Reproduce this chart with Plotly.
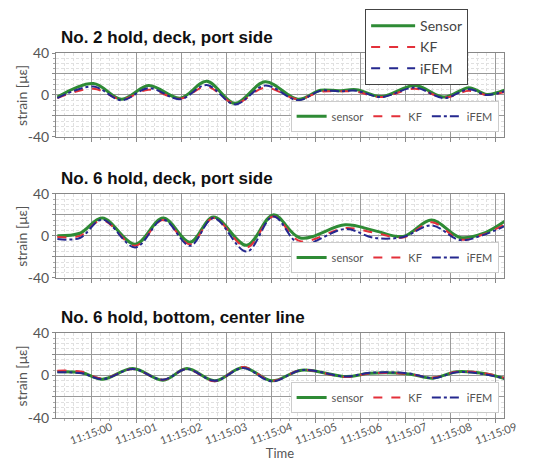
import plotly.graph_objects as go
import pandas as pd

# ---- data (seconds after 11:15:00, strain in micro-strain) ----
T1 = [-0.75, 0.05, 0.68, 1.28, 1.98, 2.57, 3.2, 3.87, 4.6, 5.1, 5.5, 5.9, 6.45, 7.2, 7.85, 8.4, 8.8, 9.25]
S1 = [-2, 11, -4, 9, -3, 13, -8, 12.5, -4, 4.5, 4, 5, -1.5, 9, -2, 7, 0.5, 5.5]
K1 = [-3, 6, -4, 5, -3.5, 8, -8, 7, -4, 3, 3.5, 3, -2, 6, -2.5, 4, 0, 3.5]
F1 = [-3, 8, -5, 6.5, -4, 9.5, -9, 9, -5, 4, 3.5, 4, -2, 7, -3, 5.5, 0, 4.5]

T2 = [-0.75, -0.25, 0.25, 0.98, 1.6, 2.2, 2.72, 3.46, 4.05, 4.65, 5.65, 6.3, 6.94, 7.57, 8.2, 8.7, 9.25]
S2 = [0, 2.5, 17, -8, 17, -6, 18, -9, 20, -2, 10.5, 5, -0.5, 15, -1.5, 2, 15.5]
K2 = [-1, 0, 15, -9.5, 15, -8, 17, -11, 18.5, -5, 7.5, 3, -1.5, 13, -3.5, 1, 12]
F2 = [-3, -2, 15.5, -11, 15.5, -9.5, 17, -15, 18.5, -8, 6.5, -2, -1, 10, -4, 0.5, 10.5]

T3 = [-0.75, -0.2, 0.25, 0.93, 1.6, 2.13, 2.75, 3.38, 4.02, 4.68, 5.68, 6.2, 7.05, 7.6, 8.13, 8.7, 9.25]
S3 = [3.5, 2.5, -3.5, 6.5, -4.5, 6.5, -5, 7.5, -5, 5, -1, 2, 1.5, -2.5, 3.5, 2, -3.5]
K3 = [4.5, 3.5, -3, 6, -4, 6, -5.5, 8, -5, 5, -1.5, 2, 1.5, -2, 3.5, 2.5, -3]
F3 = [3, 2, -3.5, 6, -4, 6, -5, 7, -5.5, 5, -1, 2.5, 2, -2.5, 3, 1.5, -3.5]

TITLES = ["No. 2 hold, deck, port side", "No. 6 hold, deck, port side", "No. 6 hold, bottom, center line"]
SERIES_NAMES = ["sensor", "KF", "iFEM"]
MAIN_NAMES = ["Sensor", "KF", "iFEM"]
Y_TICKS = [-40, -20, 0, 20, 40]
Y_TICK_TEXT = ["-40", "", "0", "", "40"]
Y_TITLE = "strain [με]"
X_TITLE = "Time"

BASE = pd.Timestamp("2023-01-01 11:15:00")


def tt(secs):
    return [(BASE + pd.Timedelta(seconds=s)).strftime("%Y-%m-%d %H:%M:%S.%f") for s in secs]


GREEN = "#2e8b35"
RED = "#e3303a"
BLUE = "#25288f"
FONT = "Lato, Liberation Sans, sans-serif"

panels = [(T1, S1, K1, F1), (T2, S2, K2, F2), (T3, S3, K3, F3)]
domains = [[0.770, 1.0], [0.384, 0.614], [0.0, 0.233]]
leg_y = [0.784, 0.397, 0.0137]

fig = go.Figure()
for i, (T, S, K, F) in enumerate(panels):
    ax = "" if i == 0 else str(i + 1)
    lg = "legend%d" % (i + 2)
    x = tt(T)
    styles = [(S, GREEN, "solid", 3.0), (K, RED, "dash", 2.0), (F, BLUE, "dashdot", 2.0)]
    for name, (vals, col, dash, w) in zip(SERIES_NAMES, styles):
        fig.add_trace(go.Scatter(x=x, y=vals, mode="lines", name=name,
                                 line=dict(color=col, dash=dash, width=w, shape="spline", smoothing=1.0),
                                 xaxis="x" + ax, yaxis="y" + ax, legend=lg))

# main legend entries
for name, col, dash, w in zip(MAIN_NAMES, [GREEN, RED, BLUE], ["solid", "dash", "dash"], [3, 2, 2]):
    fig.add_trace(go.Scatter(x=[None], y=[None], mode="lines", name=name,
                             line=dict(color=col, dash=dash, width=w),
                             xaxis="x", yaxis="y", legend="legend"))

xrange = [(BASE - pd.Timedelta(seconds=0.78)).strftime("%Y-%m-%d %H:%M:%S.%f"),
          (BASE + pd.Timedelta(seconds=9.18)).strftime("%Y-%m-%d %H:%M:%S.%f")]

layout = dict(
    width=525, height=453,
    margin=dict(l=48, r=29, t=45, b=43, autoexpand=False),
    paper_bgcolor="white", plot_bgcolor="white",
    font=dict(family=FONT, color="#555"),
    showlegend=True,
    legend=dict(x=0.69, y=1.12, xanchor="left", yanchor="top", orientation="v",
                bgcolor="white", bordercolor="#444", borderwidth=1,
                font=dict(size=14, color="#444", family=FONT), tracegroupgap=0,
                itemwidth=44),
)
for i in range(3):
    ax = "" if i == 0 else str(i + 1)
    layout["xaxis" + ax] = dict(
        type="date", range=xrange, domain=[0, 1], anchor="y" + ax,
        tick0=tt([0])[0], dtick=1000, tickformat="%H:%M:%S", tickangle=-20,
        ticklabelshift=20, ticklabelstandoff=-6,
        showticklabels=(i == 2), tickfont=dict(size=11, color="#555"),
        showgrid=True, gridcolor="#9a9a9a", gridwidth=1,
        showline=True, linecolor="#888", mirror=True,
        ticks="outside", ticklen=4, tickcolor="#888",
        minor=dict(dtick=200, showgrid=True, gridcolor="#e0e0e0", griddash="3px,2px",
                   ticks="outside", ticklen=2, tickcolor="#aaa"),
        zeroline=False,
        title=dict(text=X_TITLE if i == 2 else "", font=dict(size=13, color="#555"), standoff=8),
    )
    layout["yaxis" + ax] = dict(
        range=[-40, 40], domain=domains[i], anchor="x" + ax,
        tickmode="array", tickvals=Y_TICKS, ticktext=Y_TICK_TEXT,
        tickfont=dict(size=14, color="#555"),
        showgrid=True, gridcolor="#9a9a9a", gridwidth=1,
        showline=True, linecolor="#888", mirror=True,
        ticks="outside", ticklen=3, tickcolor="#888",
        minor=dict(dtick=5, tick0=0, showgrid=True, gridcolor="#e0e0e0", griddash="3px,2px",
                   ticks="outside", ticklen=2, tickcolor="#aaa"),
        zeroline=False,
    )
    layout["legend%d" % (i + 2)] = dict(
        x=0.988, y=leg_y[i], xanchor="right", yanchor="bottom", orientation="h",
        bgcolor="white", bordercolor="#cccccc", borderwidth=1,
        font=dict(size=11, color="#555", family=FONT),
        itemwidth=30,
    )

annotations = []
for i, title in enumerate(TITLES):
    annotations.append(dict(
        text="<b>%s</b>" % title, xref="paper", yref="paper",
        x=0.006, y=domains[i][1], xanchor="left", yanchor="bottom", yshift=4,
        showarrow=False, font=dict(size=17, color="#111", family="Liberation Sans, Arial, sans-serif"),
    ))
    annotations.append(dict(
        text=Y_TITLE, xref="paper", yref="paper", textangle=-90,
        x=-0.076, y=(domains[i][0] + domains[i][1]) / 2, xanchor="center", yanchor="middle",
        showarrow=False, font=dict(size=14, color="#555", family=FONT),
    ))
layout["annotations"] = annotations

fig.update_layout(**layout)
fig.write_html("out.html")
